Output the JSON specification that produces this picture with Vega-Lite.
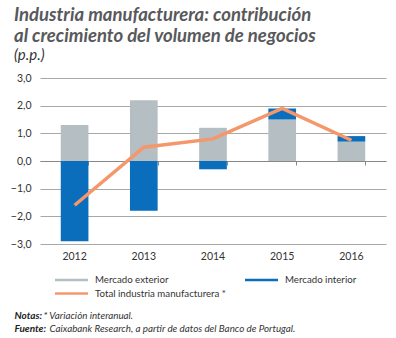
{
  "$schema": "https://vega.github.io/schema/vega-lite/v6.json",
  "width": 346,
  "height": 166,
  "autosize": "none",
  "padding": {"left": 40, "top": 78, "right": 10, "bottom": 94},
  "background": "white",
  "title": {
    "text": ["Industria manufacturera: contribución", "al crecimiento del volumen de negocios"],
    "subtitle": "(p.p.)",
    "anchor": "start",
    "frame": "group",
    "dx": -26,
    "font": "Lato",
    "fontSize": 18.5,
    "fontWeight": "bold",
    "fontStyle": "italic",
    "color": "#58595b",
    "lineHeight": 21,
    "subtitleFont": "Lato",
    "subtitleFontStyle": "italic",
    "subtitleFontSize": 15,
    "subtitleColor": "#333333",
    "subtitlePadding": 3,
    "offset": 10
  },
  "datasets": {
    "bars": [
      {"year": "2012", "serie": "Mercado exterior", "ord": 0, "value": 1.3},
      {"year": "2012", "serie": "Mercado interior", "ord": 1, "value": -2.9},
      {"year": "2013", "serie": "Mercado exterior", "ord": 0, "value": 2.2},
      {"year": "2013", "serie": "Mercado interior", "ord": 1, "value": -1.8},
      {"year": "2014", "serie": "Mercado exterior", "ord": 0, "value": 1.2},
      {"year": "2014", "serie": "Mercado interior", "ord": 1, "value": -0.3},
      {"year": "2015", "serie": "Mercado exterior", "ord": 0, "value": 1.5},
      {"year": "2015", "serie": "Mercado interior", "ord": 1, "value": 0.4},
      {"year": "2016", "serie": "Mercado exterior", "ord": 0, "value": 0.7},
      {"year": "2016", "serie": "Mercado interior", "ord": 1, "value": 0.2}
    ],
    "total": [
      {"year": "2012", "serie": "Total industria manufacturera *", "value": -1.6},
      {"year": "2013", "serie": "Total industria manufacturera *", "value": 0.5},
      {"year": "2014", "serie": "Total industria manufacturera *", "value": 0.8},
      {"year": "2015", "serie": "Total industria manufacturera *", "value": 1.9},
      {"year": "2016", "serie": "Total industria manufacturera *", "value": 0.75}
    ]
  },
  "config": {
    "view": {"stroke": null},
    "font": "Lato",
    "axis": {"labelFont": "Lato", "titleFont": "Lato"},
    "legend": {"labelFont": "Lato"}
  },
  "layer": [
    {
      "data": {"name": "bars"},
      "mark": {"type": "bar"},
      "encoding": {
        "x": {
          "field": "year",
          "type": "ordinal",
          "scale": {"paddingInner": 0.6, "paddingOuter": 0.3},
          "axis": {
            "orient": "bottom",
            "labelAngle": 0,
            "labelFontSize": 10.5,
            "labelColor": "#333333",
            "labelPadding": 7,
            "ticks": false,
            "domain": false,
            "title": "* Variación interanual.",
            "titleFontSize": 9.8,
            "titleFontStyle": "italic",
            "titleFontWeight": "normal",
            "titleColor": "#333333",
            "titleAlign": "left",
            "titleAnchor": "start",
            "titleBaseline": "alphabetic",
            "titleX": 3,
            "titleY": 74
          }
        },
        "y": {
          "field": "value",
          "type": "quantitative",
          "stack": "zero",
          "scale": {"domain": [-3, 3], "nice": false},
          "axis": {
            "values": [-3, -2, -1, 0, 1, 2, 3],
            "tickCount": 7,
            "labelExpr": "replace(format(datum.value, '.1f'), '.', ',')",
            "labelOverlap": false,
            "labelFontSize": 10.5,
            "labelColor": "#333333",
            "labelPadding": 9,
            "ticks": false,
            "domain": false,
            "grid": true,
            "gridColor": "#a8a8a8",
            "gridWidth": 1,
            "title": ["Notas:", "Fuente:"],
            "titleAngle": 0,
            "titleFontSize": 10,
            "titleFontStyle": "italic",
            "titleFontWeight": "bold",
            "titleColor": "#222222",
            "titleAlign": "left",
            "titleBaseline": "alphabetic",
            "titleLineHeight": 13,
            "titleX": -26,
            "titleY": 240
          }
        },
        "color": {
          "field": "serie",
          "type": "nominal",
          "scale": {
            "domain": ["Mercado exterior", "Mercado interior", "Total industria manufacturera *"],
            "range": ["#b4bec3", "#0a6ebd", "#f4976b"]
          },
          "legend": {
            "orient": "none",
            "direction": "horizontal",
            "legendX": 26,
            "legendY": 196,
            "columns": 2,
            "columnPadding": 19,
            "rowPadding": 3,
            "title": null,
            "symbolType": "M-3,-0.23H3V0.23H-3Z",
            "symbolSize": 121,
            "labelOffset": 18,
            "labelFontSize": 9.7,
            "labelColor": "#333333",
            "encode": {
              "symbols": {
                "update": {
                  "fill": {"scale": "color", "field": "value"},
                  "strokeWidth": {"value": 0}
                }
              }
            }
          }
        },
        "order": {"field": "ord", "type": "quantitative"}
      }
    },
    {
      "data": {"name": "total"},
      "mark": {"type": "line", "strokeWidth": 3.5},
      "encoding": {
        "x": {
          "field": "year",
          "type": "ordinal",
          "axis": {
            "orient": "bottom",
            "offset": -83,
            "labels": false,
            "ticks": true,
            "tickBand": "extent",
            "tickSize": 4,
            "tickColor": "#888888",
            "domain": true,
            "domainColor": "#888888",
            "title": "Caixabank Research, a partir de datos del Banco de Portugal.",
            "titleFontSize": 9.8,
            "titleFontStyle": "italic",
            "titleFontWeight": "normal",
            "titleColor": "#333333",
            "titleAlign": "left",
            "titleAnchor": "start",
            "titleBaseline": "alphabetic",
            "titleX": 9,
            "titleY": 170
          }
        },
        "y": {"field": "value", "type": "quantitative"},
        "color": {"field": "serie", "type": "nominal"}
      }
    }
  ],
  "resolve": {"axis": {"x": "independent"}}
}
